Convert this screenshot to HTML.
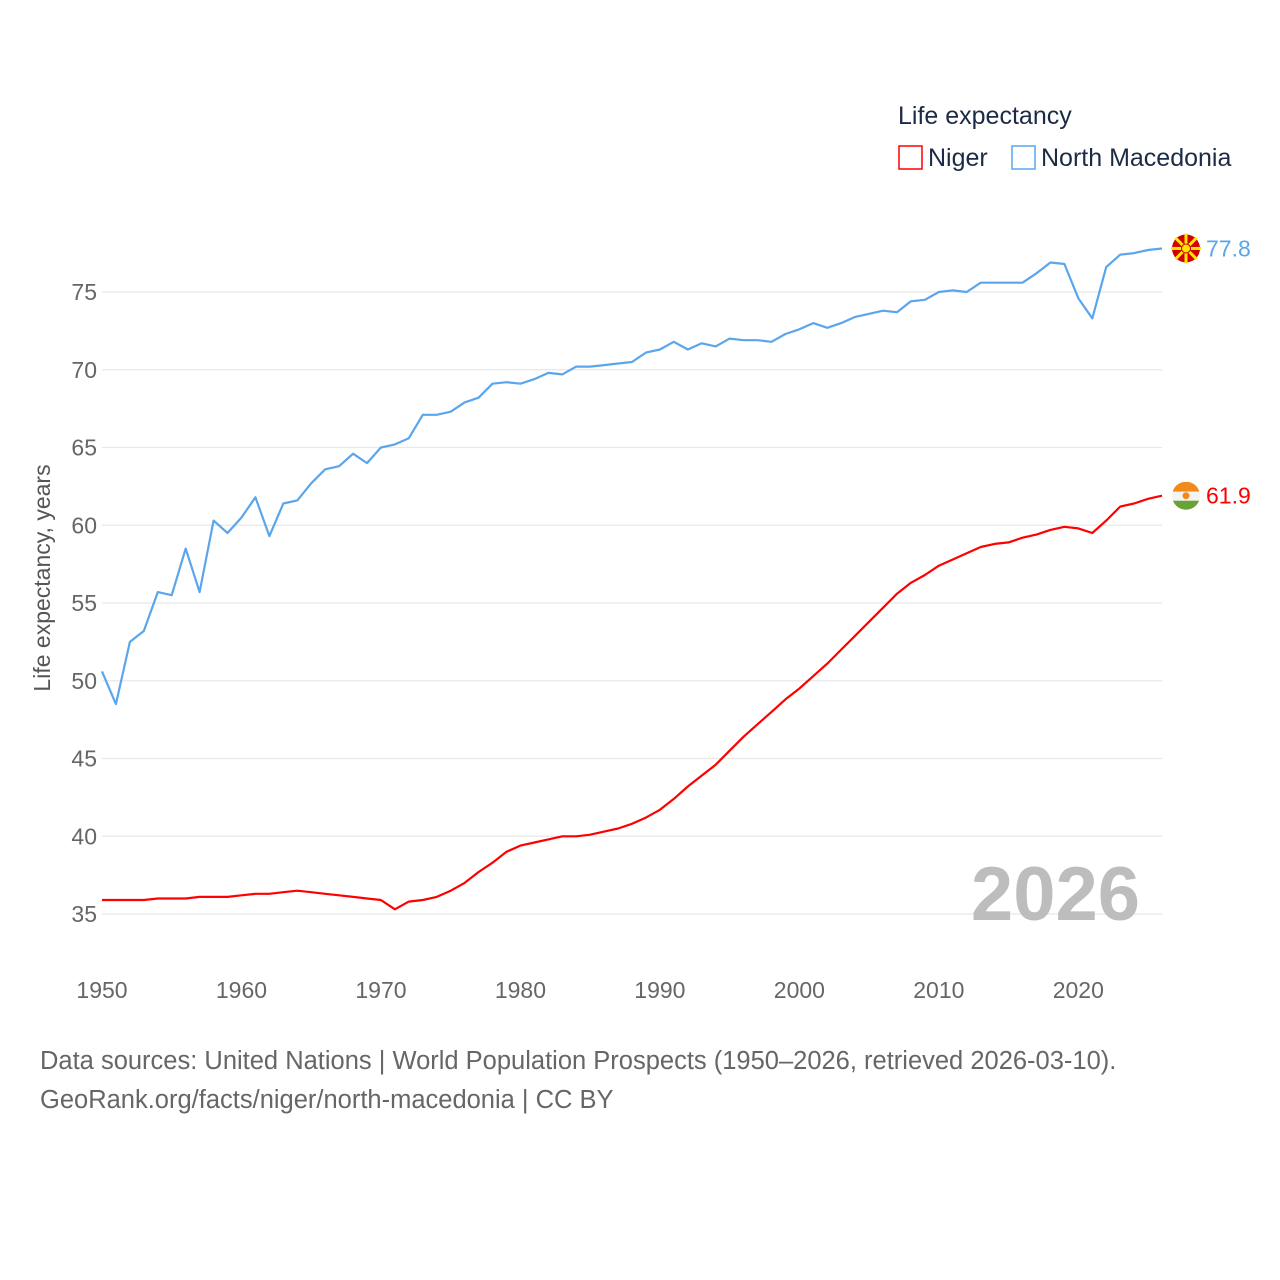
<!DOCTYPE html>
<html><head><meta charset="utf-8"><style>
body{margin:0;background:#fff;}
svg{display:block;font-family:"Liberation Sans",sans-serif;}
</style></head><body>
<svg id="chart" width="1280" height="1280" viewBox="0 0 1280 1280" xmlns="http://www.w3.org/2000/svg">
<rect width="1280" height="1280" fill="#fff"/>
<g id="grid"></g>
<g id="yticks"></g>
<g id="xticks"></g>
<text transform="translate(50,578) rotate(-90)" text-anchor="middle" font-size="23" fill="#555">Life expectancy, years</text>
<text x="1140" y="920" text-anchor="end" font-size="76" font-weight="bold" fill="#bdbdbd">2026</text>
<g id="lines"></g>
<g>
<text x="898" y="124" font-size="25" fill="#1c2b45">Life expectancy</text>
<rect x="899" y="146" width="23" height="23" fill="none" stroke="#ff0000" stroke-width="1.5"/>
<text x="928" y="166" font-size="25" fill="#1c2b45">Niger</text>
<rect x="1012" y="146" width="23" height="23" fill="none" stroke="#5aa5ec" stroke-width="1.5"/>
<text x="1041" y="166" font-size="25" fill="#1c2b45">North Macedonia</text>
</g>
<text x="40" y="1069" font-size="25.5" fill="#666">Data sources: United Nations | World Population Prospects (1950–2026, retrieved 2026-03-10).</text>
<text x="40" y="1108" font-size="25.5" fill="#666">GeoRank.org/facts/niger/north-macedonia | CC BY</text>
</svg>
<script>
const years=[];for(let y=1950;y<=2026;y++)years.push(y);
const macedonia=[50.6,48.5,52.5,53.2,55.7,55.5,58.5,55.7,60.3,59.5,60.5,61.8,59.3,61.4,61.6,62.7,63.6,63.8,64.6,64.0,65.0,65.2,65.6,67.1,67.1,67.3,67.9,68.2,69.1,69.2,69.1,69.4,69.8,69.7,70.2,70.2,70.3,70.4,70.5,71.1,71.3,71.8,71.3,71.7,71.5,72.0,71.9,71.9,71.8,72.3,72.6,73.0,72.7,73.0,73.4,73.6,73.8,73.7,74.4,74.5,75.0,75.1,75.0,75.6,75.6,75.6,75.6,76.2,76.9,76.8,74.6,73.3,76.6,77.4,77.5,77.7,77.8];
const niger=[35.9,35.9,35.9,35.9,36.0,36.0,36.0,36.1,36.1,36.1,36.2,36.3,36.3,36.4,36.5,36.4,36.3,36.2,36.1,36.0,35.9,35.3,35.8,35.9,36.1,36.5,37.0,37.7,38.3,39.0,39.4,39.6,39.8,40.0,40.0,40.1,40.3,40.5,40.8,41.2,41.7,42.4,43.2,43.9,44.6,45.5,46.4,47.2,48.0,48.8,49.5,50.3,51.1,52.0,52.9,53.8,54.7,55.6,56.3,56.8,57.4,57.8,58.2,58.6,58.8,58.9,59.2,59.4,59.7,59.9,59.8,59.5,60.3,61.2,61.4,61.7,61.9];
const yTicks=[35,40,45,50,55,60,65,70,75];
const xTicks=[1950,1960,1970,1980,1990,2000,2010,2020];
const NS="http://www.w3.org/2000/svg";
const X=y=>102+(y-1950)*(1162-102)/76;
const Y=v=>914-(v-35)*(914-292)/40;
function mk(tag,attrs,parent){const e=document.createElementNS(NS,tag);for(const k in attrs)e.setAttribute(k,attrs[k]);parent.appendChild(e);return e;}
const grid=document.getElementById('grid'),yt=document.getElementById('yticks'),xt=document.getElementById('xticks'),lines=document.getElementById('lines');
yTicks.forEach(v=>{
 const l=mk('line',{x1:102,x2:1162,y1:Y(v),y2:Y(v),stroke:'#e8e8e8','stroke-width':1.2},grid);
 
 
 const t=mk('text',{x:97,y:Y(v)+8,'text-anchor':'end','font-size':23,fill:'#666'},yt);
 t.textContent=v;
 
 
});
xTicks.forEach(v=>{
 const t=mk('text',{x:X(v),y:998,'text-anchor':'middle','font-size':23,fill:'#666'},xt);
 t.textContent=v;
 
 
});
function series(vals,color,name){
 const d=vals.map((v,i)=>(i?'L':'M')+X(years[i]).toFixed(1)+' '+Y(v).toFixed(1)).join(' ');
 const p=mk('path',{d:d,fill:'none',stroke:color,'stroke-width':2.2,'stroke-linejoin':'round'},lines);
 
 
 const last=vals[vals.length-1],cx=X(years[years.length-1])+24,cy=Y(last);
 return {cx,cy,last};
}
const m=series(macedonia,'#5aa5ec','north-macedonia');
const n=series(niger,'#ff0000','niger');
const fm=mk('g',{},lines);


mk('circle',{cx:m.cx,cy:m.cy,r:14,fill:'#d20000'},fm);
for(let a=0;a<8;a++){const ang=a*Math.PI/4;mk('line',{x1:m.cx,y1:m.cy,x2:m.cx+15*Math.cos(ang),y2:m.cy+15*Math.sin(ang),stroke:'#ffe600','stroke-width':3},fm);}
mk('circle',{cx:m.cx,cy:m.cy,r:4.5,fill:'#ffe600',stroke:'#d20000','stroke-width':1},fm);
const mt=mk('text',{x:m.cx+20,y:m.cy+8,'font-size':23,fill:'#5aa5ec'},lines);
mt.textContent=m.last.toFixed(1);


const fn=mk('g',{},lines);


mk('clipPath',{id:'nc'},fn);
mk('circle',{cx:n.cx,cy:n.cy,r:14},fn.lastChild);
const g2=mk('g',{'clip-path':'url(#nc)'},fn);
mk('rect',{x:n.cx-14,y:n.cy-14,width:28,height:10,fill:'#f28a1a'},g2);
mk('rect',{x:n.cx-14,y:n.cy-4,width:28,height:9,fill:'#f4f4f4'},g2);
mk('rect',{x:n.cx-14,y:n.cy+5,width:28,height:10,fill:'#6aa236'},g2);
mk('circle',{cx:n.cx,cy:n.cy,r:3.5,fill:'#f28a1a'},fn);
const nt=mk('text',{x:n.cx+20,y:n.cy+8,'font-size':23,fill:'#ff0000'},lines);
nt.textContent=n.last.toFixed(1);


</script>
</body></html>
